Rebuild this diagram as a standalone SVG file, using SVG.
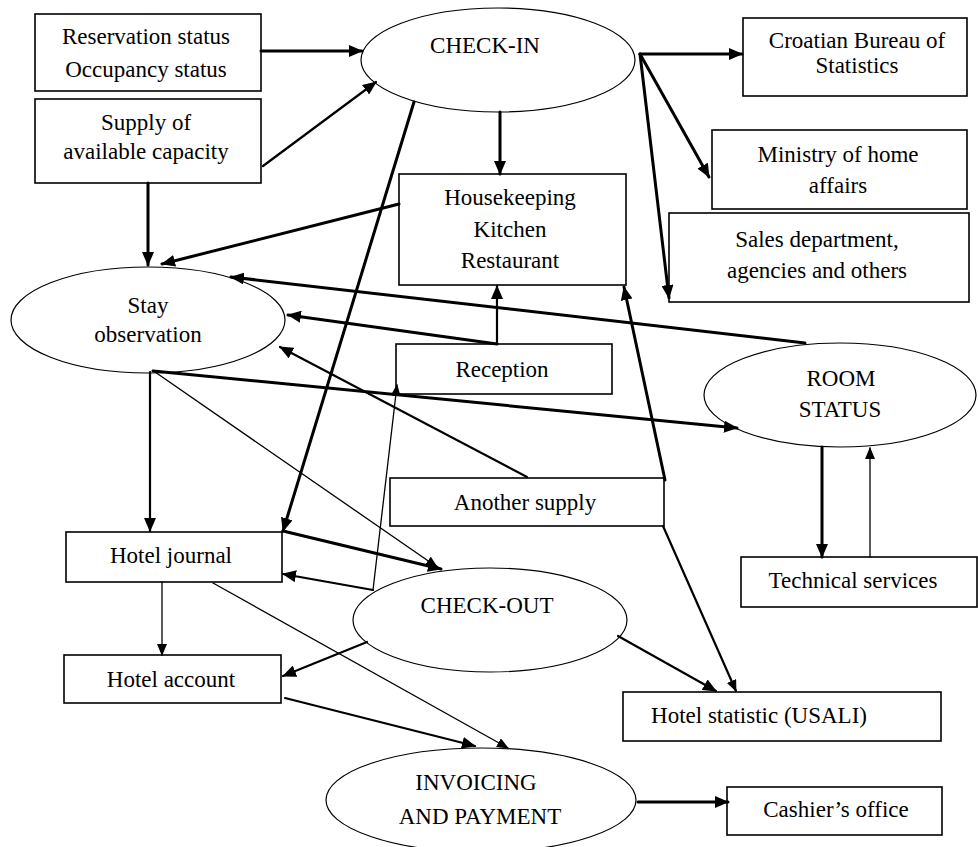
<svg xmlns="http://www.w3.org/2000/svg" width="978" height="847" viewBox="0 0 978 847">
<style>
.box{fill:#fff;stroke:#000;stroke-width:1.6}
.ell{fill:#fff;stroke:#000;stroke-width:1.2}
.t{font-family:"Liberation Serif","Times New Roman",serif;font-size:23px;fill:#000;text-anchor:middle}
.c{fill:none;stroke:#000;stroke-linecap:round}
.k{stroke-width:3}
.m{stroke-width:2.2}
.n{stroke-width:1.3}
</style>
<defs>
<marker id="a" markerUnits="userSpaceOnUse" markerWidth="14" markerHeight="12" refX="13" refY="6" orient="auto">
<path d="M0,0 L14,6 L0,12 z" fill="#000"/>
</marker>
<marker id="s" markerUnits="userSpaceOnUse" markerWidth="12" markerHeight="10" refX="11" refY="5" orient="auto">
<path d="M0,0 L12,5 L0,10 z" fill="#000"/>
</marker>
</defs>
<rect width="978" height="847" fill="#fff"/>

<g id="reservation"><rect class="box" x="35" y="14" width="226" height="77"/>
<text class="t" x="146" y="44">Reservation status</text><text class="t" x="146" y="77">Occupancy status</text></g>
<g id="supply"><rect class="box" x="35" y="99" width="226" height="84"/>
<text class="t" x="146" y="130">Supply of</text><text class="t" x="146" y="159">available capacity</text></g>
<g id="checkin"><ellipse class="ell" cx="498" cy="60" rx="137" ry="52"/>
<text class="t" x="485" y="53">CHECK-IN</text></g>
<g id="housekeeping"><rect class="box" x="399" y="174" width="227" height="111"/>
<text class="t" x="510" y="205">Housekeeping</text><text class="t" x="510" y="237">Kitchen</text><text class="t" x="510" y="268">Restaurant</text></g>
<g id="croatian"><rect class="box" x="743" y="18" width="224" height="78"/>
<text class="t" x="857" y="48">Croatian Bureau of</text><text class="t" x="857" y="73">Statistics</text></g>
<g id="ministry"><rect class="box" x="712" y="130" width="255" height="79"/>
<text class="t" x="838" y="162">Ministry of home</text><text class="t" x="838" y="193">affairs</text></g>
<g id="sales"><rect class="box" x="669" y="213" width="300" height="89"/>
<text class="t" x="817" y="247">Sales department,</text><text class="t" x="817" y="278">agencies and others</text></g>
<g id="stay"><ellipse class="ell" cx="148" cy="320" rx="137" ry="53"/>
<text class="t" x="148" y="313">Stay</text><text class="t" x="148" y="342">observation</text></g>
<g id="reception"><rect class="box" x="396" y="344" width="216" height="50"/>
<text class="t" x="502" y="377">Reception</text></g>
<g id="roomstatus"><ellipse class="ell" cx="840" cy="395" rx="136" ry="52"/>
<text class="t" x="841" y="386">ROOM</text><text class="t" x="840" y="417">STATUS</text></g>
<g id="another"><rect class="box" x="390" y="478" width="274" height="48"/>
<text class="t" x="525" y="510">Another supply</text></g>
<g id="technical"><rect class="box" x="741" y="557" width="236" height="50"/>
<text class="t" x="853" y="588">Technical services</text></g>
<g id="journal"><rect class="box" x="66" y="532" width="216" height="50"/>
<text class="t" x="171" y="563">Hotel journal</text></g>
<g id="checkout"><ellipse class="ell" cx="490" cy="620" rx="137" ry="52"/>
<text class="t" x="487" y="613">CHECK-OUT</text></g>
<g id="account"><rect class="box" x="64" y="655" width="217" height="48"/>
<text class="t" x="171" y="687">Hotel account</text></g>
<g id="statistic"><rect class="box" x="623" y="692" width="318" height="49"/>
<text class="t" x="759" y="723">Hotel statistic (USALI)</text></g>
<g id="invoicing"><ellipse class="ell" cx="481" cy="800" rx="155" ry="52"/>
<text class="t" x="476" y="790">INVOICING</text><text class="t" x="480" y="824">AND PAYMENT</text></g>
<g id="cashier"><rect class="box" x="727" y="787" width="215" height="48"/>
<text class="t" x="836" y="817">Cashier’s office</text></g>

<g id="connectors">
<line class="c k" x1="261" y1="51" x2="362" y2="51" marker-end="url(#a)"/>
<line class="c m" x1="263" y1="166" x2="376" y2="82" marker-end="url(#a)"/>
<line class="c k" x1="148" y1="183" x2="148" y2="265" marker-end="url(#a)"/>
<line class="c k" x1="500" y1="112" x2="500" y2="174" marker-end="url(#a)"/>
<line class="c k" x1="640" y1="54" x2="742" y2="54" marker-end="url(#a)"/>
<line class="c k" x1="640" y1="54" x2="709" y2="177" marker-end="url(#a)"/>
<line class="c k" x1="640" y1="54" x2="669" y2="298" marker-end="url(#a)"/>
<line class="c k" x1="414" y1="102" x2="283" y2="531" marker-end="url(#a)"/>
<line class="c k" x1="399" y1="204" x2="162" y2="264" marker-end="url(#a)"/>
<line class="c k" x1="805" y1="343" x2="231" y2="277" marker-end="url(#a)"/>
<line class="c k" x1="497" y1="344" x2="288" y2="315" marker-end="url(#a)"/>
<line class="c m" x1="497" y1="344" x2="497" y2="286" marker-end="url(#a)"/>
<line class="c k" x1="153" y1="371" x2="737" y2="428" marker-end="url(#a)"/>
<line class="c m" x1="527" y1="477" x2="280" y2="347" marker-end="url(#a)"/>
<line class="c m" x1="150" y1="372" x2="150" y2="531" marker-end="url(#a)"/>
<line class="c n" x1="155" y1="372" x2="437" y2="567" marker-end="url(#s)"/>
<line class="c k" x1="283" y1="531" x2="441" y2="569" marker-end="url(#a)"/>
<line class="c m" x1="373" y1="590" x2="283" y2="574" marker-end="url(#a)"/>
<line class="c n" x1="373" y1="590" x2="397" y2="385" marker-end="url(#s)" stroke-width="1.6"/>
<line class="c k" x1="665" y1="480" x2="624" y2="287" marker-end="url(#a)"/>
<line class="c m" x1="663" y1="526" x2="736" y2="691" marker-end="url(#s)"/>
<line class="c m" x1="618" y1="636" x2="716" y2="691" marker-end="url(#a)"/>
<line class="c k" x1="822" y1="447" x2="822" y2="557" marker-end="url(#a)"/>
<line class="c n" x1="870" y1="557" x2="870" y2="448" marker-end="url(#s)" stroke-width="1.6"/>
<line class="c n" x1="162" y1="582" x2="162" y2="655" marker-end="url(#s)" stroke-width="1.6"/>
<line class="c m" x1="367" y1="642" x2="283" y2="676" marker-end="url(#a)"/>
<line class="c n" x1="213" y1="583" x2="508" y2="748" marker-end="url(#s)"/>
<line class="c m" x1="285" y1="698" x2="475" y2="746" marker-end="url(#a)"/>
<line class="c k" x1="638" y1="802" x2="728" y2="802" marker-end="url(#a)"/>
</g>
</svg>
